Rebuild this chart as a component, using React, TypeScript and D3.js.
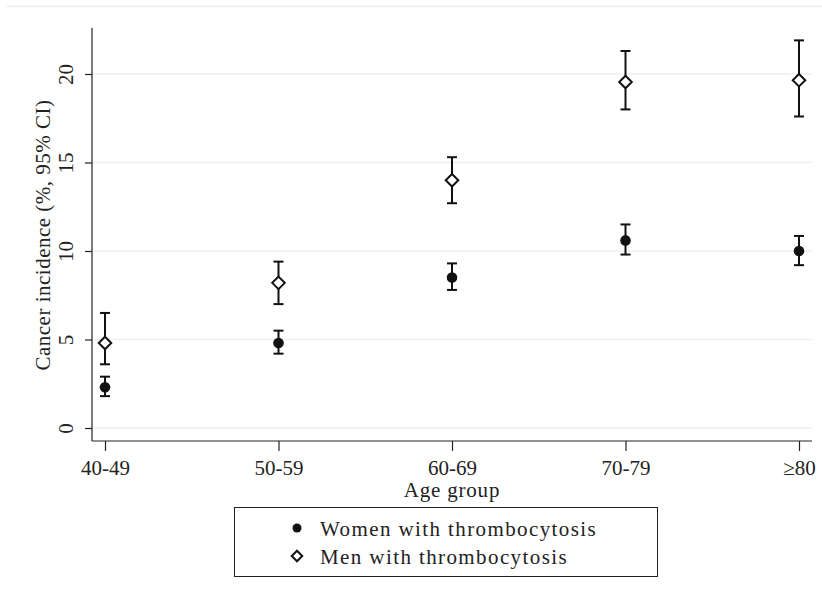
import { useEffect, useRef } from 'react';
import * as d3 from 'd3';

const ageGroups = ['40-49', '50-59', '60-69', '70-79', '≥80'];

const womenEst = [2.3, 4.8, 8.5, 10.6, 10.0];
const womenLo = [1.8, 4.2, 7.8, 9.8, 9.2];
const womenHi = [2.9, 5.5, 9.3, 11.5, 10.85];

const menEst = [4.8, 8.2, 14.0, 19.55, 19.65];
const menLo = [3.6, 7.0, 12.7, 18.0, 17.6];
const menHi = [6.5, 9.4, 15.3, 21.3, 21.9];

const yTicks = [0, 5, 10, 15, 20];
const legendLabels = ['Women with thrombocytosis', 'Men with thrombocytosis'];

const FONT = '"Liberation Serif", "DejaVu Serif", serif';

const App = () => {
  const svgRef = useRef<SVGSVGElement>(null);

  useEffect(() => {
    const width = 822;
    const height = 599;

    const svg = d3.select(svgRef.current);
    svg.selectAll('*').remove();
    svg.attr('width', width).attr('height', height);

    svg.append('rect').attr('width', width).attr('height', height).attr('fill', '#fff');

    // faint outer frame line at top
    svg.append('line')
      .attr('x1', 7).attr('x2', width).attr('y1', 6.5).attr('y2', 6.5)
      .attr('stroke', '#e6eeef').attr('stroke-width', 1.5);

    const x = d3.scalePoint<string>()
      .domain(ageGroups)
      .range([105, 799]);

    const y = d3.scaleLinear()
      .domain([0, 20])
      .range([428, 74]);

    const plotLeft = 92;
    const plotRight = 812;
    const axisY = 441;
    const axisTop = y(22.6);

    // Gridlines
    svg.append('g')
      .selectAll('line')
      .data(yTicks)
      .join('line')
      .attr('x1', plotLeft + 1)
      .attr('x2', plotRight)
      .attr('y1', d => y(d))
      .attr('y2', d => y(d))
      .attr('stroke', '#eaf1f3')
      .attr('stroke-width', 1.5);

    // Y axis
    const yAxis = svg.append('g')
      .attr('transform', `translate(${plotLeft},0)`)
      .call(d3.axisLeft(y).tickValues(yTicks).tickSize(7).tickPadding(0).tickFormat(d3.format('d')));
    yAxis.select('.domain').remove();
    yAxis.append('line')
      .attr('x1', 0).attr('x2', 0).attr('y1', axisTop).attr('y2', axisY)
      .attr('stroke', '#222').attr('stroke-width', 1.2);
    yAxis.selectAll('.tick line').attr('stroke', '#222').attr('stroke-width', 1.2);
    yAxis.selectAll('.tick text')
      .attr('x', 0)
      .attr('dy', null)
      .attr('transform', 'translate(-19,0) rotate(-90)')
      .attr('text-anchor', 'middle')
      .style('font-family', FONT)
      .style('font-size', '21px')
      .style('fill', '#222');

    // X axis
    const xAxis = svg.append('g')
      .attr('transform', `translate(0,${axisY})`)
      .call(d3.axisBottom(x).tickSize(10));
    xAxis.select('.domain').remove();
    xAxis.append('line')
      .attr('x1', plotLeft).attr('x2', plotRight).attr('y1', 0).attr('y2', 0)
      .attr('stroke', '#222').attr('stroke-width', 1.2);
    xAxis.selectAll('.tick line').attr('stroke', '#222').attr('stroke-width', 1.2);
    xAxis.selectAll('.tick text')
      .attr('y', 34)
      .attr('dy', null)
      .style('font-family', FONT)
      .style('font-size', '21px')
      .style('fill', '#222');

    // Axis titles
    svg.append('text')
      .attr('x', x('60-69')!)
      .attr('y', 497)
      .attr('text-anchor', 'middle')
      .style('font-family', FONT)
      .style('font-size', '21px')
      .style('letter-spacing', '0.8px')
      .style('fill', '#222')
      .text('Age group');

    svg.append('text')
      .attr('transform', 'translate(50,235) rotate(-90)')
      .attr('text-anchor', 'middle')
      .style('font-family', FONT)
      .style('font-size', '21px')
      .style('letter-spacing', '0.5px')
      .style('fill', '#222')
      .text('Cancer incidence (%, 95% CI)');

    const capHalf = 5;
    const drawBars = (lo: number[], hi: number[]) => {
      const g = svg.append('g').attr('stroke', '#111').attr('stroke-width', 2);
      ageGroups.forEach((a, i) => {
        const cx = x(a)!;
        g.append('line').attr('x1', cx).attr('x2', cx).attr('y1', y(lo[i])).attr('y2', y(hi[i]));
        g.append('line').attr('x1', cx - capHalf).attr('x2', cx + capHalf).attr('y1', y(lo[i])).attr('y2', y(lo[i]));
        g.append('line').attr('x1', cx - capHalf).attr('x2', cx + capHalf).attr('y1', y(hi[i])).attr('y2', y(hi[i]));
      });
    };

    drawBars(womenLo, womenHi);
    drawBars(menLo, menHi);

    const diamond = d3.symbol().type(d3.symbolDiamond2).size(100);

    svg.append('g')
      .selectAll('circle')
      .data(womenEst)
      .join('circle')
      .attr('cx', (_, i) => x(ageGroups[i])!)
      .attr('cy', d => y(d))
      .attr('r', 5.3)
      .attr('fill', '#111');

    svg.append('g')
      .selectAll('path')
      .data(menEst)
      .join('path')
      .attr('transform', (d, i) => `translate(${x(ageGroups[i])},${y(d)})`)
      .attr('d', diamond)
      .attr('fill', '#fff')
      .attr('stroke', '#111')
      .attr('stroke-width', 2);

    // Legend
    const lg = svg.append('g');
    lg.append('rect')
      .attr('x', 234.5).attr('y', 507.5).attr('width', 423).attr('height', 69)
      .attr('fill', '#fff').attr('stroke', '#222').attr('stroke-width', 1);
    lg.append('circle').attr('cx', 297).attr('cy', 528).attr('r', 4.5).attr('fill', '#111');
    lg.append('path')
      .attr('transform', 'translate(297,556)')
      .attr('d', d3.symbol().type(d3.symbolDiamond2).size(70))
      .attr('fill', '#fff').attr('stroke', '#111').attr('stroke-width', 2);
    lg.selectAll('text.lab')
      .data(legendLabels)
      .join('text')
      .attr('class', 'lab')
      .attr('x', 320)
      .attr('y', (_, i) => 536 + i * 27.5)
      .style('font-family', FONT)
      .style('font-size', '21px')
      .style('letter-spacing', '1.4px')
      .style('fill', '#222')
      .text(d => d);
  }, []);

  return <svg ref={svgRef} style={{ display: 'block', position: 'absolute', left: 0, top: 0 }} />;
};

export default App;
